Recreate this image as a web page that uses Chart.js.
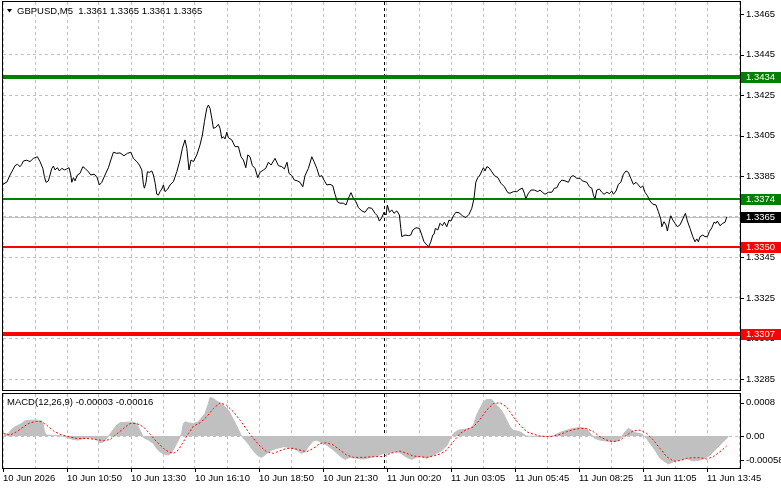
<!DOCTYPE html>
<html lang="en">
<head>
  <meta charset="UTF-8" />
  <title>GBPUSD M5 with MACD</title>
  <script src="https://cdn.jsdelivr.net/npm/chart.js"></script>
  <style>
    body { margin: 0; background: #fff; }
    #wrap { position: relative; width: 781px; height: 489px; overflow: hidden; }
    #priceChart { position: absolute; left: 0; top: 0; }
    #macdChart { position: absolute; left: 0; top: 392px; }
  </style>
</head>
<body>
  <div id="wrap">
    <canvas id="priceChart" width="781" height="392"></canvas>
    <canvas id="macdChart" width="781" height="97"></canvas>
  </div>

  <script>
    // ---- data (x = bar number on the M5 chart, 0 = first visible bar) ----
    const symbolTitle = 'GBPUSD,M5  1.3361 1.3365 1.3361 1.3365';
    const macdTitle = 'MACD(12,26,9) -0.00003 -0.00016';

    const xTickBars = [0, 32, 64, 96, 128, 160, 192, 224, 256, 288, 320, 352];
    const xTickLabels = ['10 Jun 2026', '10 Jun 10:50', '10 Jun 13:30', '10 Jun 16:10', '10 Jun 18:50', '10 Jun 21:30',
                         '11 Jun 00:20', '11 Jun 03:05', '11 Jun 05:45', '11 Jun 08:25', '11 Jun 11:05', '11 Jun 13:45'];
    const daySeparatorBar = 190.25;

    const priceTicks = [1.3465, 1.3445, 1.3425, 1.3405, 1.3385, 1.3365, 1.3345, 1.3325, 1.3305, 1.3285];
    const macdTicks = [0.0008, 0, -0.00058];
    const macdTickLabels = ['0.0008', '0.00', '-0.00058'];

    const levelValues = [1.3434, 1.3374, 1.3350, 1.3307];
    const bidPrice = 1.3365;

    // close price, [bar, price]
    const priceSeries = [
      [0,1.3381],[2,1.33822],[3.5,1.33856],[4.9,1.33881],[6,1.33902],[7.2,1.33909],[8.5,1.33897],[9.4,1.33909],[10.2,1.33925],[11.9,1.33929],
      [13.5,1.33922],[15.2,1.33938],[17.2,1.33946],[18.5,1.33922],[19.9,1.33889],[20.7,1.33848],[21.5,1.3382],[22.7,1.33827],[23.5,1.33856],[24.4,1.33889],
      [25.2,1.339],[26,1.33881],[27.2,1.33892],[28.2,1.33876],[29.4,1.33889],[30.7,1.33881],[31.9,1.33886],[33,1.33892],[33.9,1.33856],[34.4,1.3382],
      [35.2,1.33843],[36,1.33827],[37.2,1.33856],[38.5,1.33864],[39.9,1.33897],[41,1.33889],[42.7,1.33872],[43.9,1.33856],[45.5,1.3386],[46.9,1.33848],
      [48.2,1.33807],[49.4,1.3382],[51,1.33856],[52.7,1.33892],[53.9,1.3393],[55.2,1.33968],[56.9,1.33963],[58.5,1.33965],[60.5,1.33951],[62.2,1.33963],
      [63.9,1.33968],[65.2,1.33938],[66.9,1.33922],[68.2,1.33905],[69.4,1.33881],[70.2,1.3381],[70.7,1.33791],[71.5,1.3382],[72.2,1.33872],[73.2,1.33869],
      [74.4,1.33876],[75.2,1.33856],[76,1.3382],[76.9,1.33761],[77.7,1.33757],[78.5,1.33774],[79.4,1.33787],[80.2,1.33807],[81,1.33774],[82.4,1.33787],
      [83.5,1.33807],[85.2,1.33823],[86.9,1.33872],[88.5,1.3393],[89.7,1.33988],[91,1.34029],[91.9,1.33988],[93,1.33881],[94,1.3393],[95.2,1.33922],
      [96.9,1.33955],[98.5,1.34004],[99.7,1.34053],[100.7,1.34119],[101.9,1.34185],[102.7,1.34201],[103.5,1.34185],[104.4,1.34136],[105.2,1.34086],[106.4,1.34091],
      [107.7,1.34106],[108.5,1.34086],[109.4,1.34037],[110.2,1.34045],[111,1.34034],[111.9,1.34067],[112.7,1.3404],[114.4,1.34029],[116,1.33996],[117.7,1.33996],
      [119,1.33946],[120.2,1.3393],[121.4,1.33892],[122.4,1.33955],[123.5,1.33946],[124.7,1.33902],[126,1.33889],[127.4,1.33843],[128.5,1.33869],[130.2,1.33881],
      [131.4,1.33889],[132.7,1.33919],[134,1.33905],[136,1.33938],[137.7,1.33902],[139.4,1.33897],[140.7,1.33886],[142,1.33919],[143,1.33864],[144.4,1.33853],
      [145.7,1.33831],[147.2,1.33827],[148.5,1.3382],[149.9,1.33798],[151,1.33853],[152.7,1.33889],[154.4,1.33946],[155.5,1.33922],[156.9,1.33889],[158.2,1.33848],
      [159.4,1.33853],[160.5,1.33831],[161.9,1.33807],[163.5,1.3381],[164.9,1.33803],[166,1.33761],[167.2,1.33724],[168.5,1.33717],[170.2,1.33717],[171.5,1.33708],
      [172.7,1.33741],[174,1.33769],[175.2,1.33741],[176.5,1.33724],[177.7,1.33695],[179.4,1.33679],[181,1.33672],[182.7,1.33695],[184.4,1.33692],[186,1.33667],
      [187.2,1.33655],[188.2,1.33629],[189.4,1.33646],[190.5,1.33672],[191.5,1.33659],[192.2,1.33708],[193.2,1.33672],[194.4,1.33684],[195.5,1.33667],[196.9,1.33679],
      [198.2,1.33659],[198.9,1.33593],[199.4,1.33552],[201,1.3356],[202.7,1.33557],[203.9,1.3356],[204.9,1.33585],[206.5,1.33596],[208.2,1.33593],[209.4,1.3356],
      [210.5,1.33527],[211.9,1.33511],[212.9,1.33503],[213.9,1.33527],[214.9,1.3356],[215.5,1.33564],[216.2,1.33593],[217.4,1.33585],[218.5,1.33618],[219.7,1.33606],
      [220.7,1.33623],[221.9,1.33601],[223,1.33634],[224,1.33629],[225.2,1.33655],[226.4,1.33672],[228,1.3367],[229.7,1.33655],[231.4,1.33646],[233,1.33662],
      [234.4,1.33692],[235.5,1.33741],[236.4,1.3382],[237.4,1.33843],[238.5,1.33856],[239.4,1.33876],[240.2,1.33892],[241,1.33876],[241.9,1.33897],[243,1.33892],
      [244.4,1.33872],[245.7,1.33853],[247.4,1.33843],[249,1.33815],[250.7,1.33798],[252.4,1.33769],[253.5,1.33766],[255.2,1.33774],[256.9,1.33774],[258.5,1.33786],
      [259.7,1.33791],[260.7,1.33766],[261.4,1.33738],[262.7,1.33766],[264,1.33782],[265.7,1.33782],[267.4,1.33774],[268.5,1.33782],[269.7,1.33771],[271,1.33761],
      [272.7,1.33771],[274.4,1.33771],[275.7,1.33791],[276.9,1.33793],[278,1.33815],[279.4,1.33831],[281,1.33827],[282.7,1.3382],[284,1.33848],[285.2,1.33853],
      [286.9,1.3384],[288.5,1.3384],[289.7,1.33827],[291.9,1.3382],[293.2,1.33798],[294.4,1.33791],[295.2,1.33757],[296,1.33738],[296.9,1.33782],[298.2,1.33787],
      [299.4,1.33771],[300.5,1.33761],[301.9,1.33771],[303.2,1.33764],[304.4,1.33777],[305.2,1.33761],[306.5,1.33777],[307.7,1.3381],[308.9,1.3382],[310.2,1.3386],
      [311.5,1.33876],[312.7,1.33869],[313.9,1.3384],[315.2,1.3381],[316.5,1.3382],[317.7,1.33807],[318.9,1.33793],[319.9,1.33803],[321,1.33771],[322.2,1.33754],
      [323.5,1.33728],[324.9,1.33712],[326.5,1.33708],[327.7,1.33675],[328.9,1.33639],[329.4,1.33601],[330.5,1.33626],[331.5,1.3361],[332.2,1.3358],[333.2,1.33629],
      [333.9,1.33655],[334.9,1.33634],[336,1.33618],[337.2,1.33601],[338.5,1.3361],[339.9,1.33639],[341.2,1.33667],[342.2,1.33629],[343.5,1.33593],[344.9,1.33552],
      [346,1.33527],[346.9,1.33541],[347.7,1.33527],[348.5,1.33552],[349.9,1.3356],[351,1.33552],[352.2,1.33552],[353.2,1.33577],[354.4,1.33596],[355.5,1.33623],
      [356.5,1.33618],[357.2,1.33629],[358.5,1.33606],[359.9,1.33618],[361,1.33623],[361.9,1.3365]
    ];

    // MACD main line (histogram), [bar, value]
    const macdHist = [
      [0.2,0.000024],[2.7,0.000064],[4.3,0.00016],[6,0.000223],[7.7,0.000263],[9.3,0.000303],[11,0.000367],[13.5,0.000383],[16.8,0.000383],[19.3,0.000367],
      [20.2,0.000263],[20.7,0.000104],[21.8,0.000024],[25.2,0.000016],[30.2,0],[31.8,-0.000032],[35.2,-0.00008],[37.7,-0.000096],[40.2,-0.000056],[43.5,-0.000032],
      [46.8,-0.000096],[48.5,-0.000159],[50.2,-0.000135],[51.8,-0.000056],[53.5,0.000048],[55.2,0.00016],[56.8,0.000263],[58.5,0.000319],[61.8,0.000335],[65.2,0.000335],
      [66.8,0.000303],[68.5,0.000143],[70.2,-0.000032],[72.7,-0.000096],[75.2,-0.000175],[76.8,-0.000295],[78.5,-0.000375],[80.2,-0.00043],[82.7,-0.000454],[84.3,-0.000399],
      [86,-0.000255],[87.7,-0.000096],[89.3,0.000064],[90.2,0.000303],[91,0.000343],[92.7,0.000319],[95.2,0.000303],[97.7,0.000343],[99.3,0.000446],[101,0.000542],
      [102.7,0.000781],[103.5,0.000925],[105.2,0.000901],[106.8,0.000845],[108.5,0.000797],[110.2,0.000741],[112.7,0.000622],[115.2,0.000399],[117.7,0.00016],[119.3,0],
      [121,-0.000096],[122.7,-0.000191],[124.3,-0.000295],[126,-0.000399],[127.7,-0.000478],[129.3,-0.00051],[131,-0.000454],[133.5,-0.000351],[136.8,-0.000295],[140.2,-0.000255],
      [143.5,-0.000271],[146.8,-0.000335],[149.3,-0.000414],[151,-0.000375],[152.7,-0.000255],[155.2,-0.000112],[156.8,-0.000096],[159.3,-0.000159],[161.8,-0.000215],[165.2,-0.000335],
      [168.5,-0.000478],[171,-0.000558],[173.5,-0.00051],[176.8,-0.000534],[180.2,-0.00055],[183.5,-0.000518],[186.8,-0.000478],[190.2,-0.00042],[193.5,-0.0004],[196.8,-0.00037],
      [198.5,-0.000399],[201.8,-0.00051],[204.3,-0.000558],[206.8,-0.00051],[209.3,-0.000494],[211.8,-0.000534],[214.3,-0.000478],[216.8,-0.000414],[219.3,-0.000351],[221.8,-0.000239],
      [223.5,-0.00008],[225.2,0.000064],[227.7,0.000143],[230.2,0.000159],[233.5,0.000183],[235.2,0.000263],[236.8,0.000502],[238.5,0.000662],[240.2,0.000821],[241.8,0.000877],
      [244.3,0.000877],[246,0.000781],[248.5,0.000662],[250.2,0.000542],[251.8,0.000383],[253.5,0.000223],[255.2,0.000143],[258.5,0.000104],[260.2,0.000048],[261.8,0],
      [268.5,-0.000008],[275.2,0],[276.8,0.000048],[279.3,0.000104],[281.8,0.000143],[285.2,0.000183],[288.5,0.000207],[291.8,0.000183],[294.3,0.000024],[296,-0.000056],
      [298.5,-0.000096],[301.8,-0.00012],[305.2,-0.000135],[307.7,-0.000112],[309.3,-0.000016],[311,0.000104],[312.7,0.000183],[314.3,0.000143],[316,0.00008],[318.5,0.000064],
      [320.2,0.000024],[321.8,-0.000056],[323.5,-0.000175],[326,-0.000335],[328.5,-0.000534],[331,-0.000614],[332.7,-0.000669],[335.2,-0.000614],[338.5,-0.000574],[341.8,-0.000542],
      [345.2,-0.000598],[348.5,-0.000574],[351,-0.000534],[353.5,-0.000454],[356,-0.000335],[358.5,-0.000215],[361,-0.000096],[362.7,-0.000016]
    ];

    // MACD signal line, [bar, value]
    const macdSignal = [
      [0.2,0.000064],[3.5,0.000024],[6.8,0.000104],[10.2,0.000223],[13.5,0.000319],[16.8,0.000351],[19.3,0.000343],[21.8,0.000263],[25.2,0.000128],[28.5,0.00004],
      [31.8,0],[36.8,-0.000056],[41.8,-0.000056],[46.8,-0.00008],[50.2,-0.000112],[53.5,-0.00008],[56.8,0.000048],[60.2,0.000183],[63.5,0.000303],[66.8,0.000303],
      [70.2,0.000223],[73.5,0.000048],[76.8,-0.000135],[80.2,-0.000295],[82.7,-0.000375],[85.2,-0.000414],[87.7,-0.000335],[90.2,-0.000135],[92.7,0.000064],[95.2,0.000239],
      [98.5,0.000319],[101.8,0.000462],[105.2,0.000662],[108.5,0.000797],[111.8,0.000741],[115.2,0.000582],[118.5,0.000383],[121.8,0.00016],[125.2,-0.000056],[128.5,-0.000239],
      [131.8,-0.000375],[135.2,-0.000414],[138.5,-0.000351],[141.8,-0.000295],[145.2,-0.000295],[148.5,-0.000335],[151.8,-0.000375],[155.2,-0.000295],[158.5,-0.000175],[161.8,-0.000159],
      [165.2,-0.000215],[168.5,-0.000335],[171.8,-0.000454],[175.2,-0.00051],[180.2,-0.00051],[185.2,-0.000494],[190.2,-0.000486],[193.5,-0.000414],[198.5,-0.000359],[201.8,-0.000414],
      [205.2,-0.000478],[208.5,-0.000494],[211.8,-0.00051],[215.2,-0.000478],[218.5,-0.00043],[221.8,-0.000335],[225.2,-0.000135],[228.5,0.000064],[231.8,0.000159],[235.2,0.000223],
      [238.5,0.000399],[241.8,0.000622],[245.2,0.000781],[248.5,0.000797],[251.8,0.000701],[255.2,0.000462],[258.5,0.000263],[261.8,0.000104],[265.2,0.000048],[268.5,0],
      [273.5,-0.000016],[278.5,0.00004],[281.8,0.000104],[285.2,0.000159],[288.5,0.000183],[291.8,0.000183],[295.2,0.000104],[298.5,-0.000016],[301.8,-0.000096],[305.2,-0.000135],
      [308.5,-0.000096],[311.8,0.000024],[315.2,0.000128],[318.5,0.000143],[321.8,0.000064],[325.2,-0.000096],[328.5,-0.000295],[331.8,-0.000494],[335.2,-0.000598],[338.5,-0.00059],
      [341.8,-0.000534],[345.2,-0.000518],[348.5,-0.000518],[351.8,-0.00055],[355.2,-0.000494],[358.5,-0.000375],[361.8,-0.000239]
    ];

    // ---- styles ----
    const levelStyles = [
      { color: '#008000', width: 4 },
      { color: '#008000', width: 2 },
      { color: '#ff0000', width: 2 },
      { color: '#ff0000', width: 4 }
    ];
    const FONT_SIZE = 9.5;
    const FONT = FONT_SIZE + 'px "Liberation Sans", Arial, sans-serif';
    const GRID = '#c0c0c0';
    const X_MAX = 368.5;

    Chart.defaults.font.family = '"Liberation Sans", Arial, sans-serif';
    Chart.defaults.font.size = FONT_SIZE;
    Chart.defaults.color = '#000';

    const toXY = arr => arr.map(p => ({ x: p[0], y: p[1] }));

    // grid every 16 bars, labels every 32
    function buildXTicks(scale) {
      const t = [];
      for (let v = 0; v <= X_MAX; v += 16) t.push({ value: v });
      scale.ticks = t;
    }
    function xLabel(v) {
      const i = xTickBars.indexOf(v);
      return i >= 0 ? xTickLabels[i] : '';
    }
    // no extra room for overhanging labels, the frame is fixed
    function fixX(h) {
      return s => { s.height = h; s.paddingLeft = 0; s.paddingRight = 0; };
    }
    function fixY(s) {
      s.width = 41; s.paddingTop = 0; s.paddingBottom = 0;
    }

    function drawFrame(chart) {
      const { ctx, chartArea: a } = chart;
      ctx.save();
      ctx.strokeStyle = '#000';
      ctx.lineWidth = 1;
      ctx.strokeRect(a.left - 0.5, a.top - 0.5, a.right - a.left + 1, a.bottom - a.top + 1);
      // tick marks on the right axis
      const y = chart.scales.y;
      ctx.beginPath();
      y.ticks.forEach(t => {
        const py = Math.round(y.getPixelForValue(t.value)) + 0.5;
        ctx.moveTo(a.right, py);
        ctx.lineTo(a.right + 4, py);
      });
      ctx.stroke();
      ctx.restore();
    }

    function drawSeparator(chart) {
      const { ctx, chartArea: a } = chart;
      const sx = Math.round(chart.scales.x.getPixelForValue(daySeparatorBar)) + 0.5;
      ctx.save();
      ctx.strokeStyle = '#000';
      ctx.lineWidth = 1;
      ctx.setLineDash([3, 3]);
      ctx.beginPath();
      ctx.moveTo(sx, a.top);
      ctx.lineTo(sx, a.bottom);
      ctx.stroke();
      ctx.restore();
    }

    const pricePanel = {
      id: 'pricePanel',
      beforeDatasetsDraw(chart) {
        const { ctx, chartArea: a, scales: { y } } = chart;
        drawSeparator(chart);
        ctx.save();
        // bid line
        const by = Math.round(y.getPixelForValue(bidPrice)) + 0.5;
        ctx.strokeStyle = '#c0c0c0';
        ctx.lineWidth = 1;
        ctx.beginPath(); ctx.moveTo(a.left, by); ctx.lineTo(a.right, by); ctx.stroke();
        // support / resistance levels
        levelValues.forEach((v, i) => {
          const st = levelStyles[i];
          const py = Math.round(y.getPixelForValue(v));
          ctx.fillStyle = st.color;
          ctx.fillRect(a.left, py - st.width / 2, a.right - a.left, st.width);
        });
        ctx.restore();
      },
      afterDraw(chart) {
        const { ctx, chartArea: a, scales: { y } } = chart;
        drawFrame(chart);
        ctx.save();
        ctx.font = FONT;
        ctx.textBaseline = 'middle';
        // price tags on the axis
        const tags = levelValues.map((v, i) => ({ v, bg: levelStyles[i].color }));
        tags.push({ v: bidPrice, bg: '#000' });
        tags.forEach(t => {
          const py = Math.round(y.getPixelForValue(t.v));
          ctx.fillStyle = t.bg;
          ctx.fillRect(a.right + 1, py - 5, chart.width - a.right - 1, 11);
          ctx.fillStyle = '#fff';
          ctx.fillText(t.v.toFixed(4), a.right + 6, py + 0.5);
        });
        // title
        ctx.fillStyle = '#000';
        ctx.beginPath();
        ctx.moveTo(7, 9); ctx.lineTo(12, 9); ctx.lineTo(9.5, 12.5); ctx.closePath();
        ctx.fill();
        ctx.fillText(symbolTitle, 17, 11);
        ctx.restore();
      }
    };

    const macdPanel = {
      id: 'macdPanel',
      beforeDatasetsDraw(chart) {
        drawSeparator(chart);
      },
      afterDraw(chart) {
        const { ctx, chartArea: a, scales: { x } } = chart;
        drawFrame(chart);
        ctx.save();
        ctx.strokeStyle = '#000';
        ctx.beginPath();
        xTickBars.forEach(v => {
          const px = Math.round(x.getPixelForValue(v)) + 0.5;
          ctx.moveTo(px, a.bottom);
          ctx.lineTo(px, a.bottom + 4);
        });
        ctx.stroke();
        ctx.font = FONT;
        ctx.textBaseline = 'middle';
        ctx.fillStyle = '#000';
        ctx.fillText(macdTitle, 7, 10);
        ctx.restore();
      }
    };

    // ---- price panel ----
    new Chart(document.getElementById('priceChart'), {
      type: 'line',
      data: {
        datasets: [{
          data: toXY(priceSeries),
          borderColor: '#000',
          borderWidth: 1,
          pointRadius: 0,
          tension: 0
        }]
      },
      options: {
        responsive: false,
        animation: false,
        events: [],
        layout: { padding: { left: 3, top: 2, right: 0, bottom: 2 } },
        plugins: { legend: { display: false }, tooltip: { enabled: false } },
        scales: {
          x: {
            type: 'linear', min: 0, max: X_MAX,
            afterBuildTicks: buildXTicks,
            afterFit: fixX(0),
            ticks: { display: false },
            grid: { color: GRID, drawTicks: false },
            border: { display: false, dash: [3, 3] }
          },
          y: {
            position: 'right',
            min: 1.32796, max: 1.34709,
            afterBuildTicks: s => { s.ticks = priceTicks.map(v => ({ value: v })); },
            afterFit: fixY,
            ticks: { padding: 6, callback: v => v.toFixed(4) },
            grid: { drawTicks: false, color: c => (c.tick && c.tick.value === priceTicks[0]) ? 'rgba(0,0,0,0)' : GRID },
            border: { display: false, dash: [3, 3] }
          }
        }
      },
      plugins: [pricePanel]
    });

    // ---- MACD panel ----
    new Chart(document.getElementById('macdChart'), {
      type: 'line',
      data: {
        datasets: [
          {
            data: toXY(macdSignal),
            borderColor: '#ff0000',
            borderWidth: 1,
            borderDash: [2, 2],
            pointRadius: 0,
            tension: 0,
            fill: false
          },
          {
            data: toXY(macdHist),
            borderColor: '#c0c0c0',
            borderWidth: 1,
            backgroundColor: '#c0c0c0',
            pointRadius: 0,
            tension: 0,
            fill: 'origin'
          }
        ]
      },
      options: {
        responsive: false,
        animation: false,
        events: [],
        layout: { padding: { left: 3, top: 2, right: 0, bottom: 0 } },
        plugins: { legend: { display: false }, tooltip: { enabled: false } },
        scales: {
          x: {
            type: 'linear', min: 0, max: X_MAX,
            afterBuildTicks: buildXTicks,
            afterFit: fixX(21),
            ticks: { autoSkip: false, maxRotation: 0, align: 'start', padding: 5, callback: xLabel },
            grid: { color: GRID, drawTicks: false },
            border: { display: false, dash: [3, 3] }
          },
          y: {
            position: 'right',
            min: -0.000765, max: 0.00101,
            afterBuildTicks: s => { s.ticks = macdTicks.map(v => ({ value: v })); },
            afterFit: fixY,
            ticks: { padding: 6, callback: (v, i) => macdTickLabels[i] },
            grid: { drawTicks: false, color: c => (c.tick && c.tick.value === 0) ? GRID : 'rgba(0,0,0,0)' },
            border: { display: false, dash: [3, 3] }
          }
        }
      },
      plugins: [macdPanel]
    });
  </script>
</body>
</html>
